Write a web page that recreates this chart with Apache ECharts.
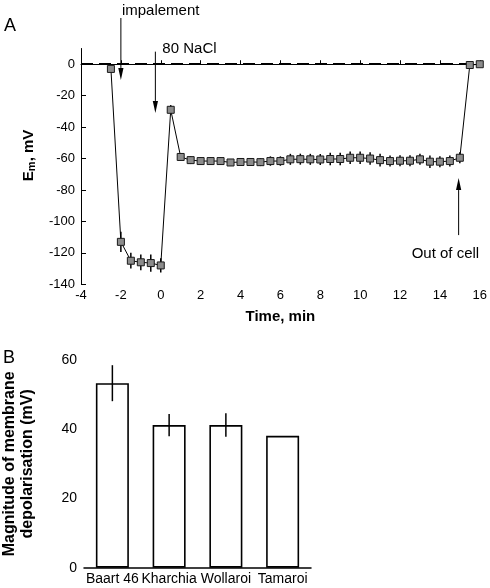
<!DOCTYPE html>
<html><head><meta charset="utf-8">
<script src="https://cdn.jsdelivr.net/npm/echarts@6/dist/echarts.min.js"></script>
<style>html,body{margin:0;padding:0;background:#fff}#c{width:490px;height:588px}</style>
</head><body><div id="c"></div>
<script>
// Panel A: membrane potential time course
const timeA = [-2.5, -2, -1.5, -1, -0.5, 0, 0.5, 1, 1.5, 2, 2.5, 3, 3.5, 4, 4.5, 5, 5.5, 6, 6.5, 7, 7.5, 8, 8.5, 9, 9.5, 10, 10.5, 11, 11.5, 12, 12.5, 13, 13.5, 14, 14.5, 15, 15.5, 16];
const emA = [-3, -113, -125, -126, -126.5, -128, -29, -59, -61, -61.6, -61.6, -61.6, -62.5, -62.2, -62.2, -62.3, -61.6, -61.6, -60.5, -60.4, -60.5, -60.6, -60.3, -60.3, -59.5, -59.5, -60, -61, -61.6, -61.4, -61.4, -60.5, -62, -62, -61.6, -59.5, -0.5, 0];
const errA = [0, 6.5, 5, 5, 5.5, 4.5, 3, 1.5, 2.5, 2.5, 2.5, 2.5, 2, 2, 2.5, 2.5, 3, 3, 3.5, 3.5, 3.5, 3.5, 4, 4, 4, 4, 4, 4, 3.5, 3.5, 3.5, 3.5, 4, 3.5, 3.5, 3.5, 0, 0];
const baselineA = [[-4, 0], [16, 0]];
const xTicksA = [-4, -2, 0, 2, 4, 6, 8, 10, 12, 14, 16];
const yTicksA = [-140, -120, -100, -80, -60, -40, -20, 0];
// Panel B: magnitude of depolarisation
const cultivars = ['Baart 46', 'Kharchia', 'Wollaroi', 'Tamaroi'];
const depol = [53.3, 41.2, 41.2, 38.1];
const depolErr = [5.2, 3.2, 3.4, 0];
const yTicksB = [0, 20, 40, 60];

const FONT = 'Liberation Sans, Arial, Helvetica, sans-serif';
const chart = echarts.init(document.getElementById('c'), null, {renderer: 'canvas'});

const ptsA = timeA.map((t, i) => [t, emA[i]]);
const errBarsA = timeA.map((t, i) => [t, emA[i] - errA[i], emA[i] + errA[i]]).filter((d, i) => errA[i] > 0);
const errBarsB = cultivars.map((c, i) => [i, depol[i] - depolErr[i], depol[i] + depolErr[i]]).filter((d, i) => depolErr[i] > 0);

function errRender(params, api) {
  const p1 = api.coord([api.value(0), api.value(1)]);
  const p2 = api.coord([api.value(0), api.value(2)]);
  return {type: 'line', shape: {x1: p1[0], y1: p1[1], x2: p2[0], y2: p2[1]},
    style: {stroke: '#000', lineWidth: 1.5}};
}

function dashRender(params, api) {
  const p1 = api.coord([api.value(0), api.value(1)]);
  const p2 = api.coord([api.value(2), api.value(3)]);
  return {type: 'line', shape: {x1: p1[0], y1: Math.round(p1[1]), x2: p2[0], y2: Math.round(p2[1])},
    style: {stroke: '#000', lineWidth: 2, lineDash: [12, 6]}};
}

const option = {
  animation: false,
  textStyle: {fontFamily: FONT},
  grid: [
    {left: 81, right: 10, top: 48.5, bottom: 303.7, containLabel: false},
    {left: 82, width: 229, top: 360, bottom: 20.3, containLabel: false}
  ],
  xAxis: [
    {gridIndex: 0, type: 'value', min: -4, max: 16, interval: 2,
      name: 'Time, min', nameLocation: 'middle', nameGap: 25,
      nameTextStyle: {fontFamily: FONT, fontSize: 15, fontWeight: 'bold', color: '#000'},
      axisLine: {lineStyle: {color: '#000', width: 1}},
      axisTick: {inside: true, length: 4, lineStyle: {color: '#000'}, customValues: xTicksA},
      axisLabel: {color: '#000', fontSize: 13, fontFamily: FONT, margin: 5, customValues: xTicksA},
      splitLine: {show: false}},
    {gridIndex: 1, type: 'category', data: cultivars, boundaryGap: true,
      axisLine: {lineStyle: {color: '#000', width: 1.5}},
      axisTick: {alignWithLabel: false, length: 5, lineStyle: {color: '#000', width: 1.2}},
      axisLabel: {color: '#000', fontSize: 14, fontFamily: FONT, margin: 4, interval: 0},
      splitLine: {show: false}}
  ],
  yAxis: [
    {gridIndex: 0, type: 'value', min: -140, max: 10,
      name: '{e|E}{s|m}{e|, mV}', nameLocation: 'middle', nameGap: 45, nameRotate: 90,
      nameTextStyle: {padding: [0, 0, 0, 22],
        rich: {e: {fontFamily: FONT, fontSize: 15, fontWeight: 'bold', color: '#000'},
               s: {fontFamily: FONT, fontSize: 11, fontWeight: 'bold', color: '#000', verticalAlign: 'bottom', padding: [0, 0, -1, 0]}}},
      axisLine: {onZero: false, lineStyle: {color: '#000', width: 1}},
      axisTick: {inside: true, length: 5, lineStyle: {color: '#000'}, customValues: yTicksA},
      axisLabel: {color: '#000', fontSize: 13, fontFamily: FONT, margin: 6, customValues: yTicksA},
      splitLine: {show: false}},
    {gridIndex: 1, type: 'value', min: 0, max: 60, interval: 20,
      name: 'Magnitude of membrane\ndepolarisation (mV)', nameLocation: 'middle', nameGap: 47, nameRotate: 90,
      nameTextStyle: {fontFamily: FONT, fontSize: 16, fontWeight: 'bold', color: '#000', lineHeight: 18},
      axisLine: {lineStyle: {color: '#000', width: 1.5}},
      axisTick: {length: 6, lineStyle: {color: '#000', width: 1.2}, customValues: yTicksB},
      axisLabel: {color: '#000', fontSize: 14, fontFamily: FONT, margin: 7, customValues: yTicksB},
      splitLine: {show: false}}
  ],
  series: [
    {type: 'custom', xAxisIndex: 0, yAxisIndex: 0, silent: true, z: 1, clip: false,
      data: [[baselineA[0][0], baselineA[0][1], baselineA[1][0], baselineA[1][1]]], renderItem: dashRender},
    {type: 'custom', xAxisIndex: 0, yAxisIndex: 0, data: errBarsA, renderItem: errRender, z: 2, clip: false},
    {type: 'line', xAxisIndex: 0, yAxisIndex: 0, data: ptsA, z: 3,
      symbol: 'rect', symbolSize: 7, showAllSymbol: true,
      lineStyle: {color: '#000', width: 1},
      itemStyle: {color: '#8c8c8c', borderColor: '#1a1a1a', borderWidth: 1}},
    {type: 'bar', xAxisIndex: 1, yAxisIndex: 1, data: depol, barWidth: 33,
      itemStyle: {color: '#fff', borderColor: '#000', borderWidth: 1.6}, z: 2},
    {type: 'custom', xAxisIndex: 1, yAxisIndex: 1, data: errBarsB, renderItem: errRender, z: 3}
  ]
};
chart.setOption(option);

function px(x, y) { return chart.convertToPixel({gridIndex: 0}, [x, y]); }
function arrow(x, yFrom, yTo) {
  const a = px(x, yFrom), b = px(x, yTo);
  const dir = b[1] > a[1] ? 1 : -1;
  const headLen = 12, headW = 2.6;
  return [
    {type: 'line', shape: {x1: a[0], y1: a[1], x2: b[0], y2: b[1] - dir * headLen}, style: {stroke: '#000', lineWidth: 1}},
    {type: 'polygon', shape: {points: [[b[0], b[1]], [b[0] - headW, b[1] - dir * headLen], [b[0] + headW, b[1] - dir * headLen]]}, style: {fill: '#000'}}
  ];
}
const g = [];
g.push(...arrow(-2.0, 29.4, -10));
g.push(...arrow(-0.27, 8, -31));
g.push(...arrow(14.94, -108.7, -72.4));
const tImp = px(-2.0, 29.4), tNa = px(-0.27, 8), tOut = px(14.94, -108.7);
g.push({type: 'text', style: {text: 'impalement', x: tImp[0] + 1, y: tImp[1] - 7, fontFamily: FONT, fontSize: 15, fill: '#000', textVerticalAlign: 'middle'}});
g.push({type: 'text', style: {text: '80 NaCl', x: tNa[0] + 7, y: tNa[1] - 3, fontFamily: FONT, fontSize: 15, fill: '#000', textVerticalAlign: 'middle'}});
g.push({type: 'text', style: {text: 'Out of cell', x: tOut[0] - 47, y: tOut[1] + 19, fontFamily: FONT, fontSize: 15, fill: '#000', textVerticalAlign: 'middle'}});
g.push({type: 'text', style: {text: 'A', x: 4, y: 26, fontFamily: FONT, fontSize: 18, fill: '#000', textVerticalAlign: 'middle'}});
g.push({type: 'text', style: {text: 'B', x: 3, y: 358, fontFamily: FONT, fontSize: 18, fill: '#000', textVerticalAlign: 'middle'}});
chart.setOption({graphic: g});
</script></body></html>
